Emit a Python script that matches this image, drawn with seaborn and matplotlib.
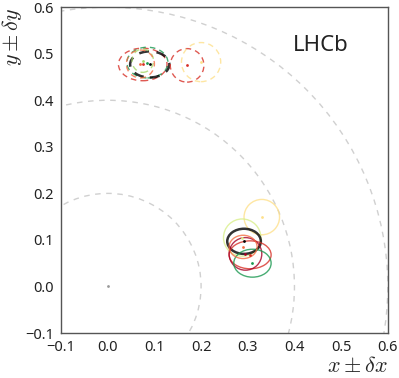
import numpy as np
import pandas as pd
import matplotlib
matplotlib.use("Agg")
import matplotlib.pyplot as plt
from matplotlib.patches import Ellipse, Circle
import seaborn as sns

# ---- data ----
# upper cluster (dashed)
up_x = [0.075, 0.085, 0.090, 0.075, 0.070, 0.170, 0.200]
up_y = [0.477, 0.481, 0.477, 0.485, 0.478, 0.475, 0.482]
up_dx = [0.052, 0.044, 0.042, 0.023, 0.030, 0.036, 0.042]
up_dy = [0.035, 0.033, 0.028, 0.025, 0.030, 0.036, 0.042]
up_col = ["#d73027", "#1a9850", "#000000", "#a6d96a", "#f46d43", "#d73027", "#fee08b"]
# lower cluster (solid)
lo_x = [0.330, 0.288, 0.292, 0.305, 0.295, 0.310, 0.290]
lo_y = [0.149, 0.105, 0.097, 0.068, 0.070, 0.050, 0.085]
lo_dx = [0.038, 0.040, 0.036, 0.045, 0.035, 0.040, 0.030]
lo_dy = [0.038, 0.040, 0.027, 0.030, 0.035, 0.030, 0.025]
lo_col = ["#fee08b", "#d9ef8b", "#000000", "#d73027", "#a50026", "#1a9850", "#f46d43"]
ring_radii = [0.2, 0.4, 0.6]
ticks = [-0.1, 0.0, 0.1, 0.2, 0.3, 0.4, 0.5, 0.6]

sns.set_theme(style="white")
plt.rcParams["font.family"] = ["Noto Sans", "DejaVu Sans"]
plt.rcParams["mathtext.fontset"] = "cm"

fig = plt.figure(figsize=(3.99, 3.78), dpi=100)
ax = fig.add_axes([0.153, 0.119, 0.819, 0.862])

for r in ring_radii:
    ax.add_patch(Circle((0, 0), r, fill=False, ls=(0, (4, 4)), lw=1.0,
                        color="#d0d0d0"))
sns.scatterplot(x=[0.0], y=[0.0], color="#999999", s=4, ax=ax, linewidth=0)

for x, y, dx, dy, c in zip(up_x, up_y, up_dx, up_dy, up_col):
    lw = 1.8 if c == "#000000" else 1.0
    ax.add_patch(Ellipse((x, y), 2 * dx, 2 * dy, fill=False, ls=(0, (4, 3)),
                         lw=lw, edgecolor=c, alpha=0.8))
for x, y, dx, dy, c in zip(lo_x, lo_y, lo_dx, lo_dy, lo_col):
    lw = 1.8 if c == "#000000" else 1.0
    ax.add_patch(Ellipse((x, y), 2 * dx, 2 * dy, fill=False, ls="-",
                         lw=lw, edgecolor=c, alpha=0.8))

df = pd.DataFrame({"x": up_x + lo_x, "y": up_y + lo_y, "c": up_col + lo_col})
for c, g in df.groupby("c"):
    sns.scatterplot(data=g, x="x", y="y", color=c, s=4, linewidth=0, ax=ax)

ax.text(0.457, 0.518, "LHCb", fontsize=16, ha="center", va="center", color="#222222")

ax.set_xlim(-0.1, 0.6)
ax.set_ylim(-0.1, 0.6)
ax.set_xticks(ticks)
ax.set_yticks(ticks)
ax.set_xticklabels([f"{t:.1f}".replace("-", "\u2212") for t in ticks])
ax.set_yticklabels([f"{t:.1f}".replace("-", "\u2212") for t in ticks])
ax.tick_params(direction="in", length=4, width=0.8, color="#555555",
               labelsize=10.5, labelcolor="#222222", pad=5)
for s in ax.spines.values():
    s.set_color("#555555")
    s.set_linewidth(1.0)
ax.set_xlabel(r"$x \pm \delta x$", fontsize=16, loc="right", labelpad=1)
ax.set_ylabel(r"$y \pm \delta y$", fontsize=16, loc="top", labelpad=1)

fig.savefig("out.png", dpi=100)
